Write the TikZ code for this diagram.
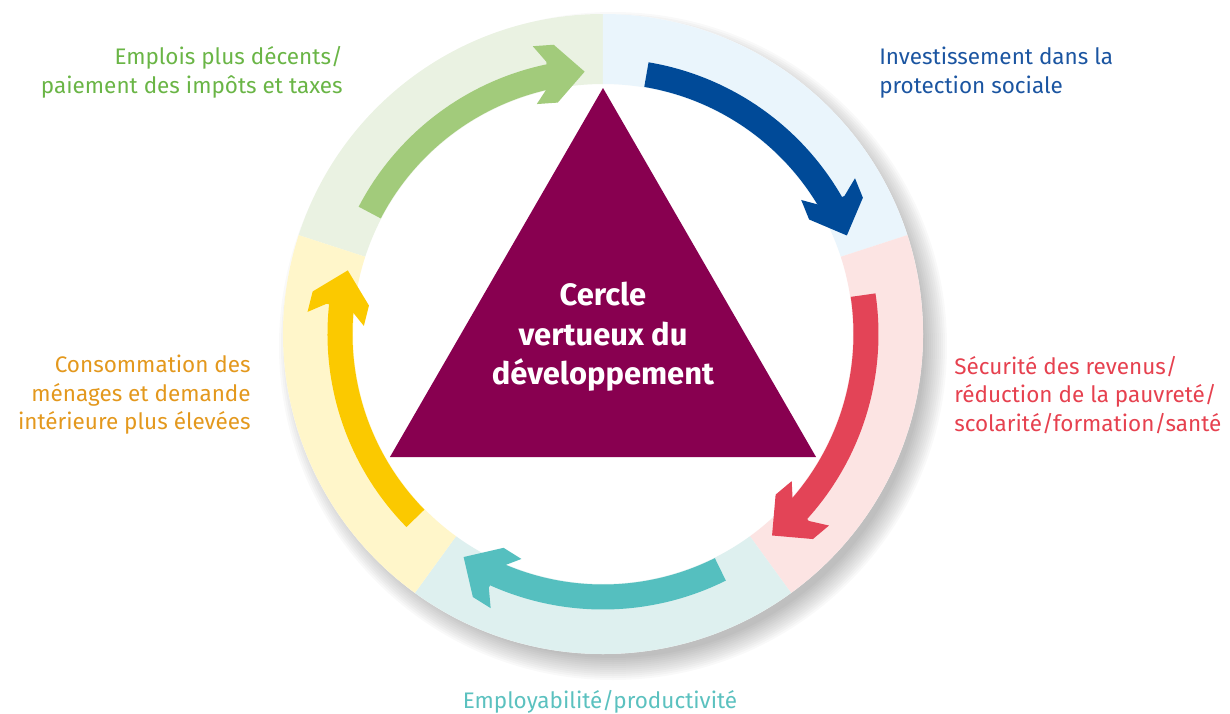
\documentclass[tikz,border=0pt]{standalone}
\usepackage{fontspec}
\setmainfont{Fira Sans}
\usetikzlibrary{positioning}
\definecolor{tri}{HTML}{880050}
\definecolor{greenA}{HTML}{A2CB7B}\definecolor{greenR}{HTML}{EAF2E2}\definecolor{greenT}{HTML}{6AB546}
\definecolor{blueA}{HTML}{004A98}\definecolor{blueR}{HTML}{EAF5FC}\definecolor{blueT}{HTML}{1B55A1}
\definecolor{redA}{HTML}{E34457}\definecolor{redR}{HTML}{FCE4E3}\definecolor{redT}{HTML}{E6414F}
\definecolor{tealA}{HTML}{55BFBF}\definecolor{tealR}{HTML}{DEF0EF}\definecolor{tealT}{HTML}{5BC1BF}
\definecolor{yelA}{HTML}{FBC900}\definecolor{yelR}{HTML}{FFF6CA}\definecolor{yelT}{HTML}{E3981D}
\def\rin{250}\def\rout{320}\def\rarr{263}
\newcommand{\ringpart}[2]{%
    \fill[fill=#2] (#1:\rout) arc[start angle=#1, delta angle=-72, radius=\rout]
        -- ({#1-72}:\rin) arc[start angle={#1-72}, delta angle=72, radius=\rin] -- cycle;
}
\newcommand{\bentarrow}[2]{%
    \draw[draw=#2, line width=0.625cm] ({#1-9.5}:\rarr) arc[start angle={#1-9.5}, end angle={#1-62}, radius=\rarr];
    \fill[fill=#2, shift={({#1-68}:\rarr)}, rotate={#1-158}]
        (-37.5,12.5) -- (-50,29) -- (-29,29) -- (0,0) -- (-29,-29) -- (-50,-29) -- (-37.5,-12.5) -- cycle;
}
\tikzset{lab/.style={font=\fontsize{16}{20.2}\selectfont, inner sep=0pt}}

\begin{document}
\begin{tikzpicture}[x=0.025cm, y=0.025cm]
          \useasboundingbox (-603,-379) rectangle (627,334);
          \foreach \k in {0,...,11} {\fill[black, opacity=0.022] (10,-12) circle[radius=312+2*\k];}
          \fill[white] (0,0) circle[radius=\rout];

          \foreach \a/\r/\c in {162/greenR/greenA, 90/blueR/blueA, 18/redR/redA, -54/tealR/tealA, -126/yelR/yelA} {
            \ringpart{\a}{\r}
            \bentarrow{\a}{\c}
          }

          \coordinate (A) at (90:246);
          \coordinate (B) at (210:246);
          \coordinate (C) at (330:246);
          \fill[tri] (A) -- (B) -- (C) -- cycle;

          \node[align=center, text=white, font=\fontsize{22}{28}\selectfont\bfseries] (title) at (0,-3)
            {Cercle\\vertueux du\\développement};

          \node[lab, text=greenT, align=right, anchor=east] (decent) at (-260,261.5)
            {Emplois plus décents/\\paiement des impôts et taxes};
          \node[lab, text=blueT, align=left, anchor=west] (invest) at (276,261.5)
            {Investissement dans la\\protection sociale};
          \node[lab, text=redT, align=left, anchor=west] (secu) at (351,-61)
            {Sécurité des revenus/\\réduction de la pauvreté/\\scolarité/formation/santé};
          \node[lab, text=yelT, align=right, anchor=east] (conso) at (-352,-61)
            {Consommation des\\ménages et demande\\intérieure plus élevées};
          \node[lab, text=tealT] (employ) at (-3,-368) {Employabilité/productivité};
        \end{tikzpicture}
\end{document}
